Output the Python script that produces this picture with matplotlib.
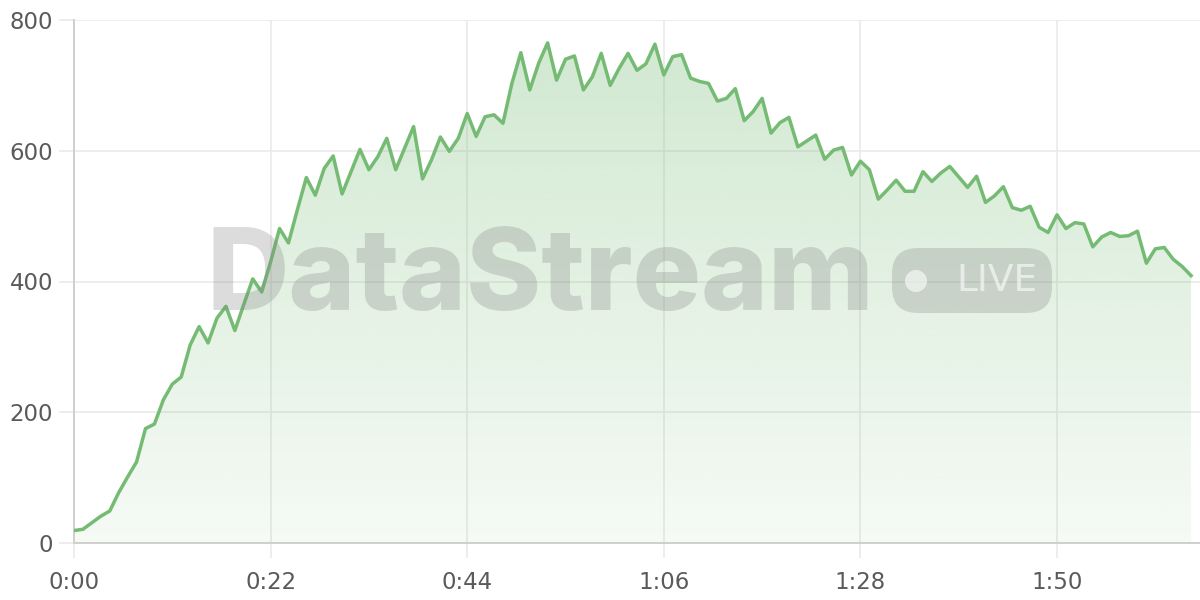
import numpy as np
import matplotlib.pyplot as plt
from matplotlib.patches import FancyBboxPatch, Circle
from matplotlib.colors import to_rgb
from matplotlib.transforms import IdentityTransform

# viewers, one sample per second (0:00 .. 2:05)
viewers = [19, 21, 31, 41, 49, 77, 101, 124, 175, 182,
           219, 243, 254, 303, 331, 306, 344, 362, 325, 365,
           404, 384, 430, 481, 459, 510, 559, 532, 573, 592,
           534, 568, 602, 571, 591, 619, 571, 604, 637, 557,
           586, 621, 599, 619, 657, 622, 652, 655, 642, 703,
           750, 693, 734, 765, 708, 740, 745, 693, 713, 749,
           700, 726, 749, 723, 733, 763, 716, 744, 747, 711,
           706, 703, 676, 680, 695, 646, 660, 680, 627, 643,
           651, 606, 615, 624, 587, 601, 605, 563, 584, 571,
           526, 540, 555, 538, 538, 568, 553, 566, 576, 560,
           544, 561, 521, 531, 545, 513, 509, 515, 483, 475,
           502, 481, 490, 488, 453, 468, 475, 469, 470, 477,
           428, 450, 452, 434, 423, 409]

x_ticks = [0, 22, 44, 66, 88, 110]
x_tick_labels = ['0:00', '0:22', '0:44', '1:06', '1:28', '1:50']
y_ticks = [0, 200, 400, 600, 800]

line_color = '#75bb74'
grid_color = '#e8e8e8'
label_color = '#5a5a5a'

plt.rcParams['font.family'] = ['DejaVu Sans']

fig = plt.figure(figsize=(12, 6), dpi=100)
ax = fig.add_axes([74 / 1200, 57 / 600, 1 - 74 / 1200, 523 / 600])
secs = np.arange(len(viewers))
ax.set_xlim(0, 126)
ax.set_ylim(0, 800)

# gradient under the line
rgba = np.zeros((256, 1, 4))
rgba[..., :3] = to_rgb(line_color)
rgba[:, 0, 3] = np.linspace(0.07, 0.34, 256)
img = ax.imshow(rgba, extent=[0, 126, 0, 800], origin='lower', aspect='auto',
                interpolation='bilinear', zorder=1)
area = ax.fill_between(secs, viewers, 0, color='none', lw=0)
img.set_clip_path(area.get_paths()[0], transform=ax.transData)

ax.plot(secs, viewers, color=line_color, lw=2.5, zorder=4)

ax.set_xticks(x_ticks)
ax.set_xticklabels(x_tick_labels)
ax.set_yticks(y_ticks)
ax.grid(color=grid_color, lw=1.1)
ax.set_axisbelow(True)
for s in ['top', 'right']:
    ax.spines[s].set_visible(False)
for s in ['left', 'bottom']:
    ax.spines[s].set_color('#cfcfcf')
    ax.spines[s].set_linewidth(1.4)
ax.tick_params(length=11, width=1.1, color=grid_color, labelsize=16.5,
               labelcolor=label_color)
ax.tick_params(axis='y', pad=4)
ax.tick_params(axis='x', pad=9)

# watermark
fig.text(207 / 1200, 1 - 310 / 600, 'DataStream', fontsize=82, fontweight='heavy',
         family=['Inter', 'DejaVu Sans'], color='#808080', alpha=0.27,
         ha='left', va='baseline', zorder=10)
pill = FancyBboxPatch((892, 600 - 313), 160, 65,
                      boxstyle='round,pad=0,rounding_size=26',
                      transform=IdentityTransform(), facecolor='#808080',
                      edgecolor='none', alpha=0.27, zorder=10)
fig.add_artist(pill)
dot = Circle((916, 600 - 281), 11, transform=IdentityTransform(),
             facecolor='white', edgecolor='none', alpha=0.6, zorder=11)
fig.add_artist(dot)
fig.text(997 / 1200, 1 - 281 / 600, 'LIVE', fontsize=27,
         family=['Liberation Sans Narrow', 'DejaVu Sans'], color='white',
         alpha=0.6, ha='center', va='center', zorder=11)

fig.savefig('out.png', dpi=100)
